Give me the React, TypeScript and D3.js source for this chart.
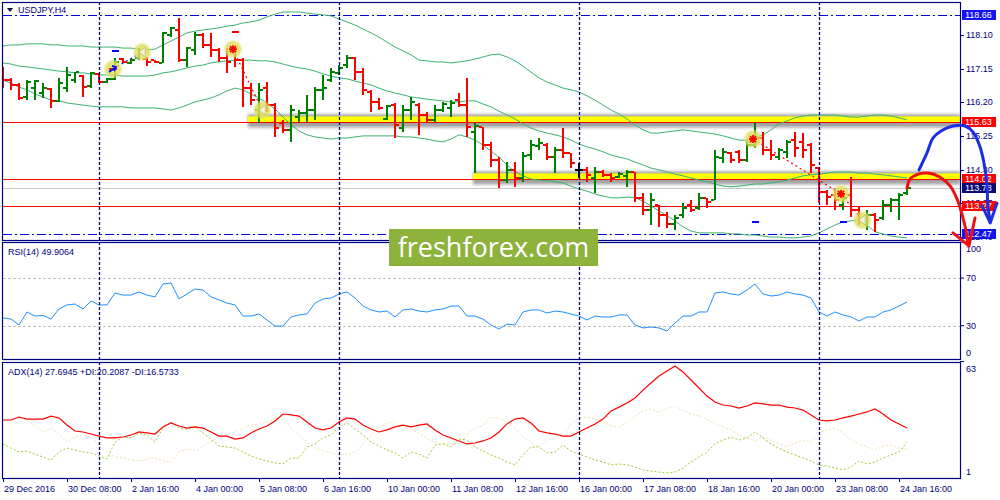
import * as d3 from "d3";

// ---- data ----
const timeLabels = ["29 Dec 2016", "30 Dec 08:00", "2 Jan 16:00", "4 Jan 00:00", "5 Jan 08:00", "6 Jan 16:00", "10 Jan 00:00", "11 Jan 08:00", "12 Jan 16:00", "16 Jan 00:00", "17 Jan 08:00", "18 Jan 16:00", "20 Jan 00:00", "23 Jan 08:00", "24 Jan 16:00"];
const labelEvery = 8;
const weekStarts = [12, 42, 72, 102];

const open = [117.14, 116.83, 116.69, 116.35, 116.6, 116.46, 116.57, 116.24, 116.6, 116.83,
  116.94, 116.66, 117.0, 116.77, 116.86, 117.42, 117.31, 117.45, 117.42, 117.39,
  117.31, 118.1, 118.24, 117.39, 117.68, 118.1, 117.82, 117.68, 117.45, 117.68,
  117.39, 116.6, 115.98, 116.6, 116.12, 115.61, 115.42, 115.78, 115.9, 115.98,
  116.55, 116.83, 117.03, 117.25, 117.45, 117.05, 116.49, 116.21, 115.73, 116.12,
  115.47, 115.98, 116.12, 115.84, 115.7, 115.98, 116.04, 116.26, 116.12, 115.36,
  115.5, 114.99, 114.57, 114.0, 114.29, 114.06, 114.71, 114.96, 114.99, 114.65,
  114.85, 114.77, 114.29, 114.29, 114.06, 114.23, 114.14, 114.09, 114.12, 114.23,
  113.5, 113.16, 113.3, 113.02, 112.76, 113.02, 113.3, 113.21, 113.5, 113.44,
  114.63, 114.77, 114.79, 114.57, 114.99, 115.19, 114.85, 114.65, 114.79, 115.13,
  115.08, 114.99, 114.34, 113.66, 113.58, 113.3, 113.58, 113.16, 112.82, 113.02,
  112.93, 113.3, 113.44, 113.64];
const high = [117.2, 116.89, 116.74, 116.83, 116.83, 116.74, 116.6, 116.89, 117.2, 117.05,
  116.97, 117.05, 117.03, 116.89, 117.45, 117.45, 117.42, 117.73, 117.48, 117.39,
  118.18, 118.33, 118.58, 117.76, 118.18, 118.16, 118.16, 117.73, 117.73, 117.73,
  117.45, 116.74, 116.74, 116.77, 116.18, 115.7, 116.12, 115.98, 116.4, 116.63,
  116.97, 117.17, 117.25, 117.54, 117.48, 117.17, 116.55, 116.32, 116.12, 116.18,
  116.12, 116.35, 116.18, 115.92, 116.12, 116.21, 116.26, 116.46, 116.89, 115.61,
  115.5, 115.08, 114.65, 114.51, 114.51, 114.79, 115.13, 115.19, 115.05, 114.94,
  115.47, 114.77, 114.48, 114.37, 114.37, 114.29, 114.2, 114.23, 114.29, 114.23,
  113.64, 113.64, 113.3, 113.1, 113.02, 113.35, 113.44, 113.64, 113.5, 114.85,
  114.91, 114.79, 114.85, 115.13, 115.61, 115.36, 115.13, 114.91, 115.13, 115.36,
  115.33, 115.05, 114.37, 113.72, 113.78, 113.66, 114.09, 113.24, 113.16, 113.07,
  113.44, 113.5, 113.64, 113.86];
const low = [116.6, 116.55, 116.26, 116.26, 116.26, 116.32, 116.04, 116.21, 116.49, 116.74,
  116.35, 116.6, 116.74, 116.74, 116.83, 117.31, 117.28, 117.39, 117.22, 117.31,
  117.31, 118.04, 117.34, 117.2, 117.54, 117.73, 117.48, 117.34, 117.03, 117.2,
  116.07, 116.12, 115.61, 115.92, 115.22, 115.33, 115.08, 115.64, 115.64, 115.7,
  116.26, 116.77, 116.97, 117.17, 116.83, 116.4, 115.92, 115.98, 115.7, 115.19,
  115.36, 115.7, 115.28, 115.61, 115.64, 115.92, 115.78, 116.07, 115.22, 114.2,
  114.85, 114.37, 113.78, 113.92, 113.81, 113.95, 114.57, 114.85, 114.57, 114.2,
  114.63, 114.34, 114.06, 113.95, 113.64, 114.09, 113.95, 114.06, 113.81, 113.38,
  113.02, 112.73, 112.68, 112.65, 112.59, 112.93, 113.1, 113.16, 113.21, 113.44,
  114.48, 114.48, 114.48, 114.51, 114.91, 114.71, 114.57, 114.57, 114.63, 114.65,
  114.63, 114.2, 113.35, 113.3, 113.16, 113.16, 112.96, 112.73, 112.59, 112.53,
  112.87, 113.1, 112.87, 113.58];
const close = [116.83, 116.69, 116.32, 116.77, 116.8, 116.6, 116.24, 116.74, 116.97, 117.05,
  116.63, 117.03, 116.77, 116.86, 117.34, 117.34, 117.39, 117.68, 117.34, 117.34,
  118.16, 118.3, 117.39, 117.73, 118.1, 117.82, 117.68, 117.45, 117.34, 117.39,
  116.6, 116.26, 116.55, 116.12, 115.47, 115.42, 115.98, 115.9, 115.98, 116.55,
  116.6, 117.05, 117.17, 117.45, 117.05, 116.55, 116.21, 116.04, 116.09, 115.56,
  115.98, 116.21, 115.84, 115.7, 115.98, 116.15, 116.18, 116.12, 115.5, 115.53,
  114.99, 114.57, 114.0, 114.29, 114.06, 114.68, 114.99, 115.05, 114.65, 114.85,
  114.77, 114.48, 114.29, 114.14, 114.23, 114.14, 114.06, 114.17, 114.23, 113.5,
  113.16, 113.44, 113.02, 112.76, 112.93, 113.21, 113.16, 113.5, 113.38, 114.65,
  114.79, 114.57, 114.57, 114.99, 115.19, 114.85, 114.71, 114.85, 115.08, 114.91,
  114.85, 114.43, 113.66, 113.52, 113.44, 113.5, 113.16, 112.87, 113.02, 112.87,
  113.3, 113.44, 113.58, 113.78];

const bbUpper = [117.79, 117.82, 117.82, 117.85, 117.85, 117.85, 117.82, 117.82, 117.79, 117.79,
  117.79, 117.76, 117.76, 117.76, 117.76, 117.73, 117.73, 117.7, 117.68, 117.7,
  117.82, 117.93, 118.04, 118.16, 118.21, 118.24, 118.27, 118.3, 118.35, 118.38,
  118.44, 118.47, 118.52, 118.61, 118.69, 118.75, 118.75, 118.75, 118.72, 118.69,
  118.67, 118.64, 118.55, 118.47, 118.38, 118.27, 118.16, 118.04, 117.9, 117.76,
  117.65, 117.54, 117.39, 117.37, 117.34, 117.34, 117.31, 117.34, 117.37, 117.42,
  117.48, 117.54, 117.56, 117.48, 117.37, 117.22, 117.05, 116.89, 116.77, 116.69,
  116.6, 116.55, 116.49, 116.38, 116.26, 116.12, 115.98, 115.87, 115.73, 115.56,
  115.42, 115.33, 115.33, 115.36, 115.39, 115.42, 115.39, 115.36, 115.33, 115.3,
  115.25, 115.19, 115.13, 115.13, 115.19, 115.28, 115.42, 115.59, 115.67, 115.76,
  115.81, 115.84, 115.84, 115.84, 115.84, 115.81, 115.78, 115.78, 115.81, 115.84,
  115.84, 115.81, 115.76, 115.7];
const bbMiddle = [117.31, 117.28, 117.22, 117.2, 117.17, 117.14, 117.11, 117.08, 117.06, 117.03,
  117.03, 117.0, 116.97, 116.97, 116.97, 116.94, 116.94, 116.94, 116.94, 116.97,
  117.03, 117.06, 117.11, 117.17, 117.22, 117.25, 117.31, 117.34, 117.37, 117.39,
  117.39, 117.39, 117.37, 117.37, 117.34, 117.28, 117.22, 117.17, 117.14, 117.08,
  117.0, 116.94, 116.89, 116.86, 116.8, 116.74, 116.69, 116.6, 116.52, 116.46,
  116.41, 116.35, 116.32, 116.29, 116.26, 116.24, 116.21, 116.21, 116.24, 116.24,
  116.15, 116.07, 115.95, 115.84, 115.73, 115.59, 115.47, 115.39, 115.33, 115.28,
  115.22, 115.13, 115.02, 114.94, 114.88, 114.8, 114.71, 114.65, 114.6, 114.51,
  114.43, 114.34, 114.29, 114.23, 114.17, 114.12, 114.06, 114.0, 113.95, 113.89,
  113.83, 113.81, 113.83, 113.86, 113.89, 113.89, 113.92, 113.95, 114.0, 114.06,
  114.12, 114.15, 114.17, 114.2, 114.23, 114.23, 114.23, 114.2, 114.2, 114.17,
  114.15, 114.12, 114.09, 114.06];
const bbLower = [116.83, 116.74, 116.63, 116.55, 116.43, 116.35, 116.26, 116.24, 116.18, 116.15,
  116.12, 116.09, 116.07, 116.07, 116.07, 116.07, 116.04, 116.04, 116.04, 116.04,
  116.01, 115.98, 116.04, 116.12, 116.21, 116.26, 116.32, 116.41, 116.52, 116.6,
  116.55, 116.43, 116.32, 116.18, 116.01, 115.78, 115.56, 115.39, 115.28, 115.22,
  115.19, 115.16, 115.19, 115.19, 115.22, 115.25, 115.25, 115.25, 115.25, 115.25,
  115.22, 115.22, 115.19, 115.16, 115.11, 115.08, 115.16, 115.28, 115.22, 115.13,
  114.99, 114.82, 114.65, 114.43, 114.23, 114.12, 114.03, 114.0, 113.98, 113.95,
  113.92, 113.83, 113.75, 113.69, 113.61, 113.55, 113.5, 113.5, 113.52, 113.5,
  113.41, 113.27, 113.13, 112.99, 112.85, 112.68, 112.56, 112.51, 112.51, 112.51,
  112.51, 112.48, 112.48, 112.45, 112.45, 112.42, 112.39, 112.39, 112.37, 112.37,
  112.39, 112.42, 112.51, 112.62, 112.73, 112.82, 112.85, 112.87, 112.73, 112.54,
  112.48, 112.42, 112.39, 112.37];

const rsi = [36.5, 35.6, 30.6, 41.5, 38.1, 38.6, 35.6, 44.0, 47.4, 48.2,
  44.0, 50.7, 47.4, 47.4, 57.4, 55.7, 55.7, 58.3, 55.7, 54.1,
  65.0, 65.8, 52.4, 56.6, 60.8, 59.9, 54.1, 51.6, 49.0, 47.4,
  38.1, 38.1, 39.8, 34.8, 29.7, 29.7, 37.3, 39.0, 39.8, 49.0,
  52.4, 53.2, 56.6, 58.3, 53.2, 46.5, 43.2, 41.5, 42.3, 37.3,
  43.2, 44.0, 42.3, 41.5, 43.2, 44.0, 46.5, 46.5, 38.1, 38.1,
  35.6, 30.6, 27.2, 31.4, 30.6, 41.5, 43.2, 43.2, 40.6, 42.3,
  41.5, 39.8, 38.1, 34.8, 38.1, 37.3, 37.3, 39.0, 39.0, 30.6,
  28.1, 28.9, 28.1, 25.6, 32.3, 38.1, 38.1, 41.5, 41.5, 57.4,
  58.3, 56.6, 55.7, 59.9, 65.0, 56.6, 54.9, 55.7, 58.3, 56.6,
  55.7, 53.2, 41.5, 38.1, 41.5, 39.0, 37.3, 33.9, 37.3, 37.3,
  41.5, 43.2, 46.5, 49.9];

const adx = [32.0, 32.0, 33.6, 32.5, 32.5, 32.5, 34.1, 33.1, 29.3, 26.1,
  25.6, 24.5, 23.4, 22.4, 22.4, 22.9, 24.0, 25.6, 25.1, 24.5,
  28.3, 30.4, 28.8, 27.7, 28.3, 27.7, 25.6, 23.4, 23.4, 21.8,
  22.4, 25.1, 27.2, 28.8, 31.5, 35.2, 34.7, 34.1, 30.9, 27.7,
  26.7, 27.7, 30.9, 33.1, 32.5, 29.3, 27.2, 25.6, 26.7, 28.3,
  29.3, 28.3, 29.3, 29.9, 26.7, 24.0, 22.4, 20.8, 19.2, 19.7,
  20.8, 22.4, 25.6, 29.9, 32.5, 33.1, 30.4, 26.1, 25.1, 24.5,
  23.4, 23.4, 25.6, 27.7, 29.9, 32.5, 36.8, 38.9, 41.1, 43.8,
  48.0, 51.8, 55.5, 58.2, 60.9, 57.7, 53.4, 49.1, 44.8, 41.6,
  40.0, 39.5, 38.4, 39.5, 41.1, 40.6, 40.0, 40.0, 38.9, 38.4,
  37.3, 34.7, 32.0, 31.5, 32.0, 33.1, 34.1, 35.2, 36.3, 37.9,
  35.2, 32.0, 29.9, 27.7];
const plusDI = [19.2, 17.0, 14.9, 15.4, 13.8, 12.2, 10.6, 14.9, 17.0, 16.0,
  14.9, 14.4, 12.8, 11.2, 20.2, 22.9, 22.4, 25.1, 24.0, 20.2,
  27.7, 30.9, 27.7, 27.2, 28.3, 25.1, 21.8, 18.1, 17.6, 17.0,
  14.9, 12.8, 11.2, 10.1, 9.0, 8.5, 11.7, 11.7, 17.6, 19.2,
  22.4, 24.0, 28.3, 30.4, 27.2, 24.0, 20.2, 18.1, 16.0, 14.4,
  11.7, 14.9, 13.8, 11.7, 18.6, 19.2, 17.6, 21.8, 21.3, 17.6,
  15.4, 13.3, 11.7, 9.6, 8.0, 13.3, 17.6, 17.6, 14.4, 14.9,
  18.6, 15.4, 13.8, 12.2, 10.6, 9.6, 8.0, 8.5, 8.0, 6.9,
  5.3, 4.7, 4.2, 3.7, 4.2, 6.3, 9.6, 12.2, 14.9, 19.2,
  21.3, 22.9, 21.3, 22.4, 25.6, 22.4, 19.2, 17.0, 14.9, 13.3,
  11.7, 10.1, 8.0, 7.4, 6.3, 5.3, 6.9, 10.1, 8.5, 9.6,
  11.7, 13.3, 14.9, 20.2];
const minusDI = [32.0, 30.9, 34.1, 32.0, 28.8, 25.6, 27.7, 24.5, 20.2, 22.9,
  24.0, 22.9, 18.6, 14.4, 12.2, 11.7, 10.6, 10.1, 11.2, 11.7,
  10.1, 9.6, 14.9, 16.5, 15.4, 17.6, 20.8, 23.4, 24.5, 25.6,
  27.7, 29.3, 29.9, 30.9, 33.1, 32.5, 27.7, 24.0, 20.2, 17.0,
  15.4, 14.4, 13.3, 13.8, 14.9, 19.0, 24.0, 27.7, 30.5, 31.0,
  26.7, 26.7, 25.0, 22.0, 20.0, 19.5, 19.2, 19.5, 24.0, 27.7,
  29.0, 33.5, 33.0, 30.5, 27.5, 23.0, 20.0, 17.6, 21.3, 22.5,
  24.0, 30.0, 33.1, 33.6, 32.5, 31.0, 29.0, 28.3, 31.0, 34.0,
  37.0, 37.9, 36.0, 38.4, 39.5, 37.3, 35.2, 34.1, 32.5, 29.9,
  28.3, 26.7, 24.0, 22.4, 20.8, 22.9, 21.3, 19.2, 17.6, 19.7,
  21.3, 20.2, 25.6, 26.7, 27.7, 25.1, 21.3, 19.2, 17.6, 16.0,
  18.1, 18.6, 17.0, 16.6];

const priceTicks = [118.1, 117.15, 116.2, 115.25, 114.3, 113.35, 112.4];
const rsiTicks = [100, 70, 30, 0];
const rsiLevels = [70, 30];
const adxTicks = [63, 1];

const redLevels = [115.63, 114.02, 113.27];
const bidPrice = 113.78;
const dashDotLevels = [118.66, 112.47];
const yellowZones = [
  { price: 115.63, top: 115.8, fromBar: 30.6 },
  { price: 114.02, top: 114.19, fromBar: 58.75 },
];
const priceTags = [
  { value: 118.66, fill: "#1414f0" },
  { value: 115.63, fill: "#ff0000" },
  { value: 114.02, fill: "#ff0000" },
  { value: 113.78, fill: "#0a0a78" },
  { value: 113.27, fill: "#ff0000" },
  { value: 112.47, fill: "#1414f0" },
];
const signals = [
  { bar: 13.75, price: 117.14, kind: "buy" },
  { bar: 17.4, price: 117.62, kind: "tri" },
  { bar: 28.75, price: 117.7, kind: "star" },
  { bar: 32.4, price: 115.98, kind: "tri" },
  { bar: 93.75, price: 115.16, kind: "star" },
  { bar: 104.75, price: 113.61, kind: "star" },
  { bar: 107.4, price: 112.87, kind: "tri" },
];
const signalLinks = [
  { from: 0, to: 1, color: "#0000ff" },
  { from: 2, to: 3, color: "#ff0000" },
  { from: 4, to: 5, color: "#ff0000" },
  { from: 5, to: 6, color: "#ff0000" },
];
const dashMarks = [
  { bar: 14, price: 117.65, color: "#0000ff" },
  { bar: 29, price: 118.18, color: "#ff0000" },
  { bar: 94, price: 112.82, color: "#0000ff" },
  { bar: 105, price: 112.82, color: "#0000ff" },
];
// hand-drawn forecast arrows, as [bar, price]
const blueCurve: [number, number][] = [[114.5, 114.29], [115.5, 114.77], [116.25, 115.19], [117.25, 115.39], [118.75, 115.53], [120.25, 115.53], [121.25, 115.36], [122.1, 114.96], [122.6, 114.51], [123.0, 113.86], [123.1, 113.3], [123.4, 112.82]];
const blueHead: [number, number][] = [[122.4, 113.27], [123.4, 112.79], [124.25, 113.35]];
const redCurve: [number, number][] = [[113, 113.78], [113.4, 114.03], [114.4, 114.17], [115.6, 114.2], [117.1, 114.09], [118.4, 113.83], [119.25, 113.47], [119.9, 113.02], [120.4, 112.54], [120.6, 112.2]];
const redHead: [number, number][] = [[118.75, 112.51], [120.75, 112.14], [121.5, 112.93]];

const FONT = "'Liberation Sans', Arial, sans-serif";
const NAVY = "#000080";
const L = 3;
const R = 960;
const MAIN = { top: 2, bottom: 240 };
const RSIP = { top: 242, bottom: 359 };
const ADXP = { top: 362, bottom: 478 };

export default function App() {
  const n = close.length;
  const x = d3.scaleLinear().domain([0, n - 1]).range([3, 907]);
  const yP = d3.scaleLinear().domain([118.1, 114.3]).range([35, 169.5]);
  const yR = d3.scaleLinear().domain([70, 30]).range([278, 325.7]);
  const yA = d3.scaleLinear().domain([63, 1]).range([362, 478]);
  const idx = d3.range(n);

  const priceLine = d3.line<number>().x((_, i) => x(i)).y((d) => yP(d));
  const rsiLine = d3.line<number>().x((_, i) => x(i)).y((d) => yR(d));
  const adxLine = d3.line<number>().x((_, i) => x(i)).y((d) => yA(d));
  const freeLine = d3.line<[number, number]>().x((d) => x(d[0])).y((d) => yP(d[1])).curve(d3.curveCatmullRom);
  const polyLine = d3.line<[number, number]>().x((d) => x(d[0])).y((d) => yP(d[1]));

  const clampLabel = (y: number, p: { top: number; bottom: number }) => Math.min(Math.max(y, p.top + 7), p.bottom - 6);
  const tickText = { fontFamily: FONT, fontSize: 9, fill: NAVY } as const;

  return (
    <svg width={1000} height={500} viewBox="0 0 1000 500" style={{ position: "absolute", left: 0, top: 0, background: "#fff" }}>
      <defs>
        <clipPath id="clipMain"><rect x={L} y={MAIN.top} width={R - L} height={MAIN.bottom - MAIN.top} /></clipPath>
        <clipPath id="clipRsi"><rect x={L} y={RSIP.top} width={R - L} height={RSIP.bottom - RSIP.top} /></clipPath>
        <clipPath id="clipAdx"><rect x={L} y={ADXP.top} width={R - L} height={ADXP.bottom - ADXP.top} /></clipPath>
        <filter id="shadow" x="-5%" y="-200%" width="110%" height="500%"><feGaussianBlur stdDeviation="1.6" /></filter>
        <radialGradient id="glow">
          <stop offset="0%" stopColor="#e4e45a" stopOpacity={0.9} />
          <stop offset="75%" stopColor="#dede5a" stopOpacity={0.8} />
          <stop offset="100%" stopColor="#e8e890" stopOpacity={0.2} />
        </radialGradient>
      </defs>

      {/* ---------- main price window ---------- */}
      <g clipPath="url(#clipMain)">
        {yellowZones.map((z, k) => (
          <g key={k}>
            <rect x={x(z.fromBar)} y={yP(z.top) - 2} width={R - x(z.fromBar)} height={yP(z.price) - yP(z.top) + 7} fill="#555" opacity={0.55} filter="url(#shadow)" />
            <rect x={x(z.fromBar)} y={yP(z.top)} width={R - x(z.fromBar)} height={yP(z.price) - yP(z.top)} fill="#ffff00" />
          </g>
        ))}
        {redLevels.map((v) => (
          <line key={v} x1={L} x2={R} y1={Math.round(yP(v)) + 0.5} y2={Math.round(yP(v)) + 0.5} stroke="#ff0000" strokeWidth={1.2} />
        ))}
        <line x1={L} x2={R} y1={Math.round(yP(bidPrice)) + 0.5} y2={Math.round(yP(bidPrice)) + 0.5} stroke="#c8c8c8" />
        {dashDotLevels.map((v) => (
          <line key={v} x1={L} x2={R} y1={Math.round(yP(v)) + 0.5} y2={Math.round(yP(v)) + 0.5} stroke="#0000e6" strokeWidth={1.2} strokeDasharray="9,3,2,3" />
        ))}

        <path d={priceLine(bbUpper) ?? ""} fill="none" stroke="#3cb371" strokeWidth={1} />
        <path d={priceLine(bbMiddle) ?? ""} fill="none" stroke="#3cb371" strokeWidth={1} />
        <path d={priceLine(bbLower) ?? ""} fill="none" stroke="#3cb371" strokeWidth={1} />

        {signalLinks.map((s, k) => (
          <line key={k} x1={x(signals[s.from].bar)} y1={yP(signals[s.from].price)} x2={x(signals[s.to].bar)} y2={yP(signals[s.to].price)} stroke={s.color} strokeWidth={1.2} strokeDasharray="2,3" />
        ))}

        {idx.map((i) => {
          const cx = x(i);
          const col = close[i] > open[i] ? "#008000" : close[i] < open[i] ? "#ff0000" : "#000000";
          const yh = Math.round(yP(high[i]));
          const yl = Math.round(yP(low[i]));
          const yo = Math.round(yP(open[i]));
          const yc = Math.round(yP(close[i]));
          return (
            <g key={i} fill={col}>
              <rect x={cx - 1} y={yh} width={2} height={Math.max(2, yl - yh)} />
              <rect x={cx - 4} y={yo - 1} width={3} height={2} />
              <rect x={cx + 1} y={yc - 1} width={3} height={2} />
            </g>
          );
        })}

        {dashMarks.map((m, k) => (
          <rect key={k} x={x(m.bar) - 3} y={Math.round(yP(m.price)) - 1} width={7} height={2} fill={m.color} />
        ))}

        {signals.map((s, k) => {
          const cx = x(s.bar);
          const cy = yP(s.price);
          return (
            <g key={k}>
              <circle cx={cx} cy={cy} r={9.5} fill="url(#glow)" />
              {s.kind === "star" && (
                <g stroke="#ff0000" strokeWidth={1.8}>
                  <line x1={cx - 4} y1={cy} x2={cx + 4} y2={cy} />
                  <line x1={cx} y1={cy - 4} x2={cx} y2={cy + 4} />
                  <line x1={cx - 3} y1={cy - 3} x2={cx + 3} y2={cy + 3} />
                  <line x1={cx - 3} y1={cy + 3} x2={cx + 3} y2={cy - 3} />
                </g>
              )}
              {s.kind === "buy" && (
                <g>
                  <line x1={cx - 4} y1={cy} x2={cx + 4} y2={cy} stroke="#ff0000" strokeWidth={1.8} />
                  <path d={`M${cx - 4},${cy + 3} L${cx + 3},${cy - 2} M${cx - 1},${cy - 3} L${cx + 3},${cy - 2} L${cx + 1},${cy + 2}`} stroke="#0000ff" strokeWidth={1.8} fill="none" />
                </g>
              )}
              {s.kind === "tri" && (
                <path d={`M${cx + 3},${cy - 5} L${cx - 3},${cy} L${cx + 3},${cy + 5} Z`} fill="#f4f4d8" stroke="#c8c890" strokeWidth={1} />
              )}
            </g>
          );
        })}
      </g>

      {/* ---------- RSI window ---------- */}
      <g clipPath="url(#clipRsi)">
        {rsiLevels.map((v) => (
          <line key={v} x1={L} x2={R} y1={Math.round(yR(v)) + 0.5} y2={Math.round(yR(v)) + 0.5} stroke="#c0c0c0" strokeDasharray="3,2" />
        ))}
        <path d={rsiLine(rsi) ?? ""} fill="none" stroke="#1e90ff" strokeWidth={1} />
      </g>

      {/* ---------- ADX window ---------- */}
      <g clipPath="url(#clipAdx)">
        <path d={adxLine(minusDI) ?? ""} fill="none" stroke="#f5deb3" strokeWidth={1} strokeDasharray="2,2" />
        <path d={adxLine(plusDI) ?? ""} fill="none" stroke="#9acd32" strokeWidth={1} strokeDasharray="2,2" />
        <path d={adxLine(adx) ?? ""} fill="none" stroke="#ff0000" strokeWidth={1.2} />
      </g>

      {/* weekly separators */}
      {weekStarts.map((b) => (
        <line key={b} x1={x(b) + 0.5} x2={x(b) + 0.5} y1={MAIN.top} y2={ADXP.bottom} stroke={NAVY} strokeWidth={1.3} strokeDasharray="3,2" />
      ))}

      {/* panel frames */}
      {[MAIN, RSIP, ADXP].map((p, k) => (
        <rect key={k} x={L - 0.5} y={p.top + 0.5} width={R - L + 1} height={p.bottom - p.top} fill="none" stroke={NAVY} strokeWidth={1.2} />
      ))}

      {/* right price axis */}
      {priceTicks.map((v) => (
        <g key={v}>
          <line x1={R} x2={R + 4} y1={Math.round(yP(v)) + 0.5} y2={Math.round(yP(v)) + 0.5} stroke={NAVY} />
          <text x={R + 6} y={yP(v)} dy="0.35em" {...tickText}>{v.toFixed(2)}</text>
        </g>
      ))}
      {priceTags.map((t) => (
        <g key={t.value}>
          <rect x={R + 2} y={Math.round(yP(t.value)) - 5} width={34} height={10} fill={t.fill} />
          <text x={R + 5} y={Math.round(yP(t.value))} dy="0.35em" fontFamily={FONT} fontSize={9} fill="#fff">{t.value.toFixed(2)}</text>
        </g>
      ))}
      {rsiTicks.map((v) => (
        <g key={v}>
          <line x1={R} x2={R + 4} y1={yR(v)} y2={yR(v)} stroke={NAVY} />
          <text x={R + 6} y={clampLabel(yR(v), RSIP)} dy="0.35em" {...tickText}>{v}</text>
        </g>
      ))}
      {adxTicks.map((v) => (
        <g key={v}>
          <text x={R + 6} y={clampLabel(yA(v), ADXP)} dy="0.35em" {...tickText}>{v}</text>
        </g>
      ))}

      {/* time axis */}
      {timeLabels.map((lab, k) => {
        const tx = x(k * labelEvery);
        return (
          <g key={lab}>
            <line x1={tx + 0.5} x2={tx + 0.5} y1={ADXP.bottom} y2={ADXP.bottom + 4} stroke={NAVY} />
            <text x={tx + 1} y={492} {...tickText}>{lab}</text>
          </g>
        );
      })}

      {/* window captions */}
      <path d="M7,8 L13,8 L10,12 Z" fill="#101040" />
      <text x={18} y={13} {...tickText}>USDJPY,H4</text>
      <text x={8} y={255} {...tickText}>RSI(14) 49.9064</text>
      <text x={8} y={375} {...tickText}>ADX(14) 27.6945 +DI:20.2087 -DI:16.5733</text>

      {/* watermark */}
      <rect x={389} y={229} width={209} height={37} fill="#8db33c" />
      <text x={493.5} y={257} textAnchor="middle" fontFamily="'Open Sans', sans-serif" fontSize={27} fill="#ffffff">freshforex.com</text>

      {/* hand-drawn forecast arrows */}
      <path d={freeLine(blueCurve) ?? ""} fill="none" stroke="#1a2ee6" strokeWidth={3} strokeLinecap="round" />
      <path d={polyLine(blueHead) ?? ""} fill="none" stroke="#1a2ee6" strokeWidth={3} strokeLinecap="round" strokeLinejoin="round" />
      <path d={freeLine(redCurve) ?? ""} fill="none" stroke="#ee1111" strokeWidth={3} strokeLinecap="round" />
      <path d={polyLine(redHead) ?? ""} fill="none" stroke="#ee1111" strokeWidth={3} strokeLinecap="round" strokeLinejoin="round" />
    </svg>
  );
}
